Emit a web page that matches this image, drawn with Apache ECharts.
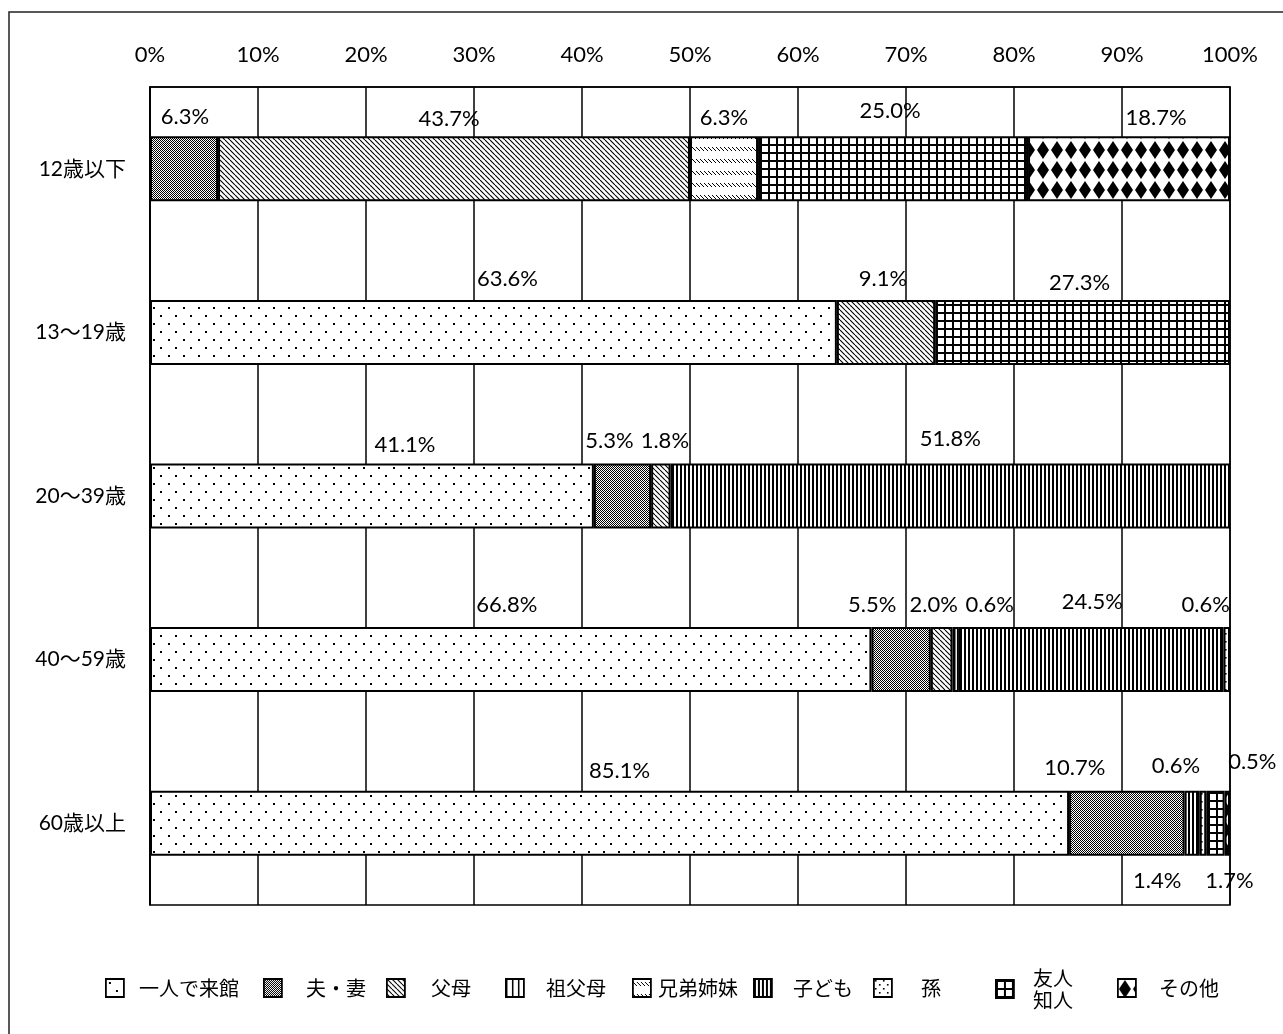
<!DOCTYPE html>
<html><head><meta charset="utf-8">
<script src="https://cdn.jsdelivr.net/npm/echarts@6/dist/echarts.min.js"></script>
<style>html,body{margin:0;padding:0;background:#fff}#c{width:1283px;height:1034px}</style>
</head><body><div id="c"></div>
<script>
// ---- data ----
const categories = ['12歳以下', '13〜19歳', '20〜39歳', '40〜59歳', '60歳以上'];
const seriesNames = ['一人で来館', '夫・妻', '父母', '祖父母', '兄弟姉妹', '子ども', '孫', '友人知人', 'その他'];
const alone      = [null, 63.6, 41.1, 66.8, 85.1];
const spouse     = [6.3, null, 5.3, 5.5, 10.7];
const parents    = [43.7, 9.1, 1.8, 2.0, null];
const grandpar   = [null, null, null, 0.6, null];
const siblings   = [6.3, null, null, null, null];
const children   = [null, null, 51.8, 24.5, 1.4];
const grandchild = [null, null, null, 0.6, 0.6];
const friends    = [25.0, 27.3, null, null, 1.7];
const others     = [18.7, null, null, null, 0.5];
const seriesValues = [alone, spouse, parents, grandpar, siblings, children, grandchild, friends, others];
const xTickValues = [0, 10, 20, 30, 40, 50, 60, 70, 80, 90, 100];

// ---- label placement tweaks (style only) : [dx, dy, position] keyed series|category ----
const labelTweaks = {
  '1|0': [1, 1], '2|0': [-5, 3], '4|0': [0, 2], '7|0': [-3, -5], '8|0': [27, 2],
  '0|1': [14, -1], '2|1': [-3, -1], '7|1': [-3, 3],
  '0|2': [33, 1], '1|2': [-13, -3], '2|2': [4, -3], '5|2': [0, -5],
  '0|3': [-4, -2], '1|3': [-29, -2], '2|3': [-8, -2], '3|3': [34, -2], '5|3': [1, -5], '6|3': [-21, -2],
  '0|4': [10, 0], '1|4': [-52, -3], '5|4': [-35, 5, 'bottom'], '6|4': [-27, -5], '7|4': [14, 5, 'bottom'], '8|4': [25, -9]
};

// ---- patterns ----
function mk(w, h, draw) {
  const c = document.createElement('canvas');
  c.width = w; c.height = h;
  const g = c.getContext('2d');
  g.fillStyle = '#fff'; g.fillRect(0, 0, w, h);
  g.fillStyle = '#000'; g.strokeStyle = '#000';
  draw(g, w, h);
  return { image: c, repeat: 'repeat' };
}
const patterns = [
  mk(15, 16, g => { g.fillRect(3, 3, 2, 2); g.fillRect(10, 11, 2, 2); }),
  mk(2, 2, g => { g.fillRect(0, 0, 1, 1); g.fillRect(1, 1, 1, 1); }),
  mk(5, 5, g => { g.lineWidth = 1.1; g.beginPath(); [-5, 0, 5].forEach(o => { g.moveTo(o, 0); g.lineTo(o + 5, 5); }); g.stroke(); }),
  mk(6, 2, g => { g.fillRect(0, 0, 1.5, 2); }),
  mk(4, 12, g => { g.lineWidth = 1; g.beginPath(); g.moveTo(0, 3); g.lineTo(4, 7); g.stroke(); }),
  mk(4, 2, g => { g.fillRect(0, 0, 2, 2); }),
  mk(8, 8, g => { g.fillRect(1, 1, 1.6, 1.6); g.fillRect(5, 5, 1.6, 1.6); }),
  mk(8, 8, g => { g.fillRect(0, 0, 8, 2); g.fillRect(0, 0, 2, 8); }),
  mk(14, 20, g => { g.beginPath(); g.moveTo(7, 1); g.lineTo(13, 10); g.lineTo(7, 19); g.lineTo(1, 10); g.closePath(); g.fill(); })
];

const FONT = 'Lato, "Noto Sans CJK JP", sans-serif';

const series = seriesNames.map((name, si) => ({
  name, type: 'bar', stack: 'total', barWidth: 65,
  itemStyle: { color: patterns[si], borderColor: '#000', borderWidth: 2 },
  label: {
    show: true, position: 'top', distance: 9, color: '#000', fontSize: 22, fontFamily: FONT,
    formatter: p => Number(p.value).toFixed(1) + '%'
  },
  emphasis: { disabled: true },
  data: seriesValues[si].map((v, ci) => {
    if (v === null) return '-';
    const t = labelTweaks[si + '|' + ci] || [0, 0];
    const lab = { offset: [t[0], t[1]] };
    if (t[2]) lab.position = t[2];
    return { value: v, label: lab };
  })
}));

// legend layout (icon left, text start)
const legendPos = [[105, 138], [263, 305], [386, 430], [505, 545], [632, 657], [753, 792], [873, 920], [995, 1032], [1117, 1158]];
const legends = seriesNames.map((n, i) => {
  const two = n === '友人知人';
  return {
    data: [n], left: legendPos[i][0], top: two ? 967 : 978, orient: 'horizontal',
    itemWidth: 18, itemHeight: 18, selectedMode: false, padding: 0,
    itemStyle: { borderColor: '#000', borderWidth: 1.8 },
    icon: 'rect',
    formatter: nm => nm === '友人知人' ? '友人\n知人' : nm,
    textStyle: { fontSize: 20, color: '#000', fontFamily: '"Noto Sans CJK JP", sans-serif',
      lineHeight: two ? 22 : 20, padding: [0, 0, 0, legendPos[i][1] - legendPos[i][0] - 23] }
  };
});

const chart = echarts.init(document.getElementById('c'));
chart.setOption({
  animation: false,
  backgroundColor: '#fff',
  graphic: [{ type: 'rect', shape: { x: 9, y: 12, width: 1300, height: 1100 }, style: { fill: 'none', stroke: '#222', lineWidth: 1.5 }, silent: true }],
  grid: { left: 150, top: 87, width: 1080, height: 818, show: true, borderColor: '#000', borderWidth: 1.5, backgroundColor: '#fff' },
  legend: legends,
  xAxis: {
    type: 'value', position: 'top', min: xTickValues[0], max: xTickValues[xTickValues.length - 1], interval: 10,
    axisLine: { show: true, lineStyle: { color: '#000', width: 1.5 } },
    axisTick: { show: false },
    axisLabel: { formatter: '{value}%', fontSize: 22, color: '#000', margin: 21, fontFamily: FONT },
    splitLine: { show: true, lineStyle: { color: '#000', width: 1.5 } }
  },
  yAxis: {
    type: 'category', data: categories, inverse: true,
    axisLine: { show: true, lineStyle: { color: '#000', width: 1.5 } },
    axisTick: { show: false },
    axisLabel: { fontSize: 21, color: '#000', margin: 24, fontFamily: FONT }
  },
  series
});
</script></body></html>
